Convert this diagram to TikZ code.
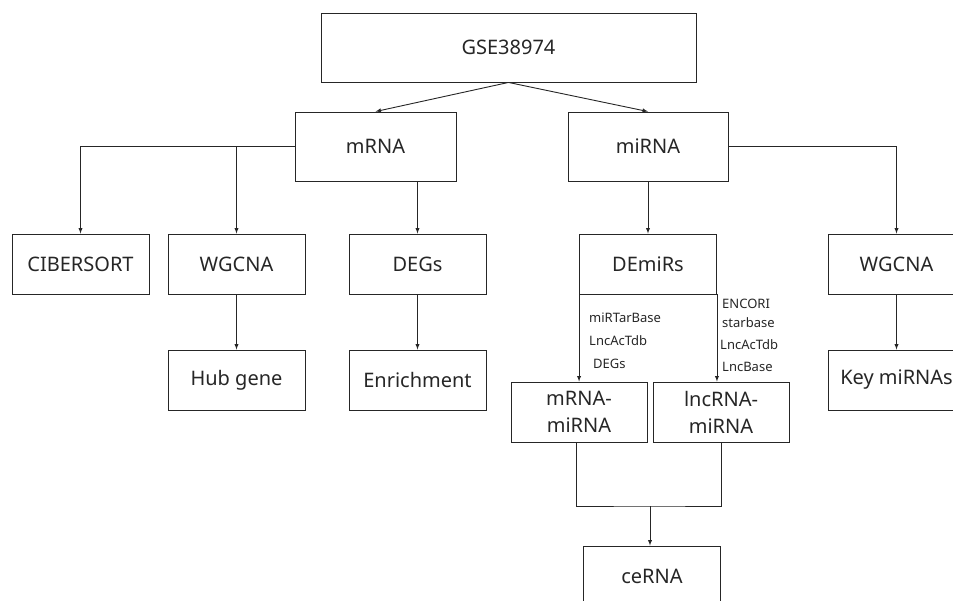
\documentclass[tikz,border=0pt]{standalone}
\usepackage{fontspec}
\setmainfont{Noto Sans}
\usetikzlibrary{shapes.geometric, arrows}
\tikzstyle{box} = [rectangle, minimum width=137pt, minimum height=60pt, text centered, align=center, inner sep=0pt, draw=black!85, text=black!85, line width=0.9pt, font=\fontsize{20}{27}\selectfont]
\tikzstyle{bigbox} = [box, minimum height=69pt]
\tikzstyle{dbname} = [anchor=west, inner sep=0pt, text=black!85, font=\fontsize{13}{15}\selectfont]
\tikzstyle{arrow} = [line width=0.9pt,->,>=latex, draw=black!85]
\tikzstyle{line} = [line width=0.9pt, draw=black!85]

\begin{document}
\begin{tikzpicture}[x=1pt, y=-1pt, node distance=116pt]
        \useasboundingbox (0,0) rectangle (953,601);
        \clip (0,0) rectangle (953,601);

        % blocos
        \node (gse) [bigbox, minimum width=375pt] at (508.5,47.5) {GSE38974};
        \node (mrna) [bigbox, minimum width=161pt] at (375.5,146.5) {mRNA};
        \node (mirna) [bigbox, minimum width=160pt] at (648,146.5) {miRNA};
        \node (cibersort) [box] at (80.5,264) {CIBERSORT};
        \node (wgcna) [box] at (236.5,264) {WGCNA};
        \node (degs) [box] at (417.5,264) {DEGs};
        \node (demirs) [box] at (648,264) {DEmiRs};
        \node (wgcnamir) [box] at (896.5,264) {WGCNA};
        \node (hubgene) [box, below of=wgcna] {Hub gene};
        \node (enrich) [box, below of=degs] {Enrichment};
        \node (keymir) [box, below of=wgcnamir] {Key miRNAs};
        \node (mm) [box, minimum width=136pt] at (579,412) {mRNA-\\miRNA};
        \node (lm) [box, minimum width=136pt] at (721,412) {lncRNA-\\miRNA};
        \node (cerna) [box] at (652,576) {ceRNA};

        % bases de dados
        \node (tarbase) [dbname] at (589,318) {miRTarBase};
        \node (lncac1) [dbname] at (589,341) {LncAcTdb};
        \node (degdb) [dbname] at (593,364) {DEGs};
        \node (encori) [dbname] at (722,304) {ENCORI};
        \node (starbase) [dbname] at (722,323) {starbase};
        \node (lncac2) [dbname] at (720,345) {LncAcTdb};
        \node (lncbase) [dbname] at (722,367) {LncBase};

        % setas
        \draw [arrow] (gse.south) -- (mrna.north);
        \draw [arrow] (gse.south) -- (mirna.north);
        \draw [arrow] (mrna.west) -| (cibersort.north);
        \draw [arrow] (mrna.west) -| (wgcna.north);
        \draw [arrow] (degs.north |- mrna.south) -- (degs.north);
        \draw [arrow] (wgcna) -- (hubgene);
        \draw [arrow] (degs) -- (enrich);
        \draw [arrow] (mirna) -- (demirs);
        \draw [arrow] (mirna.east) -| (wgcnamir.north);
        \draw [arrow] (wgcnamir) -- (keymir);
        \draw [arrow] (demirs.south west) -- (demirs.south west |- mm.north);
        \draw [arrow] (demirs.south east) -- (demirs.south east |- lm.north);

        % juncao para ceRNA
        \coordinate (join) at (650,506);
        \draw [line] ([xshift=-3pt]mm.south) |- (join) -| (lm.south);
        \draw [arrow] (join) -- (join |- cerna.north);

    \end{tikzpicture}
\end{document}
